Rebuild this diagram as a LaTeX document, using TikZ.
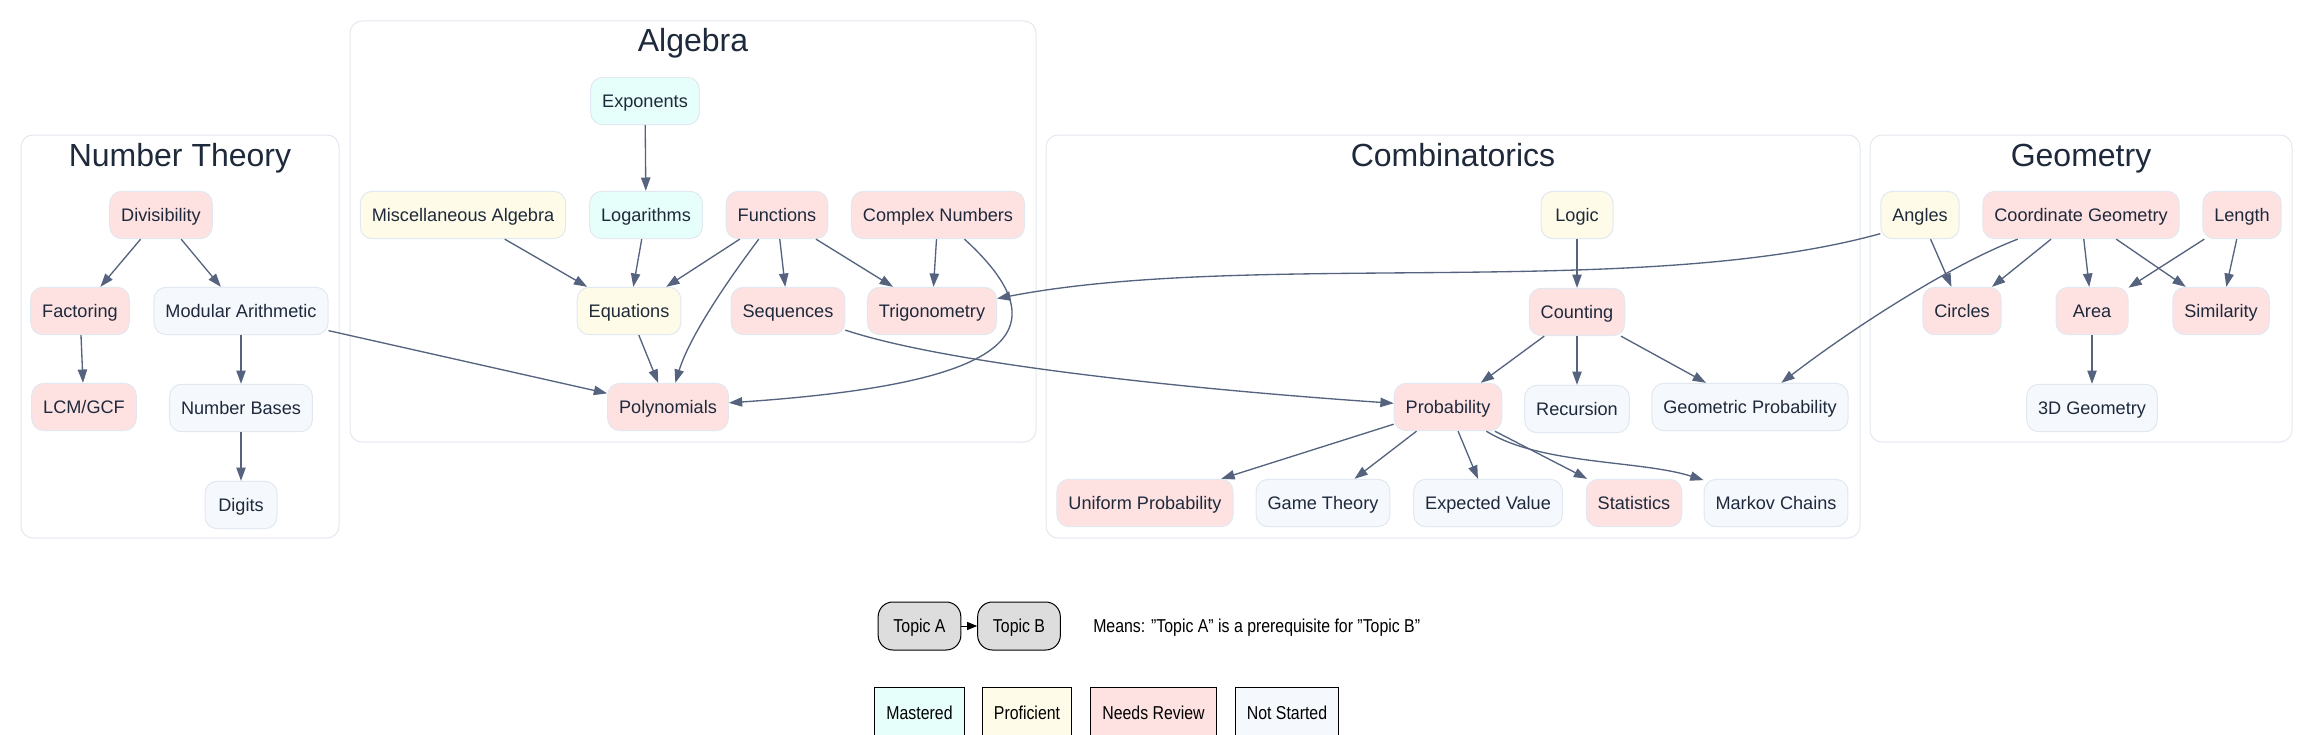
\documentclass[tikz,border=0pt]{standalone}
\usepackage{fontspec}
\setmainfont{Liberation Sans}
\usetikzlibrary{arrows.meta,positioning}

\definecolor{ink}{HTML}{1E293B}
\definecolor{wire}{HTML}{55637F}
\definecolor{rim}{HTML}{E2E8F0}
\definecolor{mastered}{HTML}{E6FFFA}
\definecolor{proficient}{HTML}{FEFCE8}
\definecolor{review}{HTML}{FEE2E2}
\definecolor{notstarted}{HTML}{F5F8FC}
\definecolor{sample}{HTML}{DDDDDD}

\newcommand{\legendtext}[1]{\scalebox{0.85}[1]{#1}}

\begin{document}
\begin{tikzpicture} [
    x=0.75pt, y=-0.75pt,
    topic/.style={rectangle, rounded corners=9pt, draw=rim, line width=0.75pt, text=ink, font=\fontsize{13.6}{16}\selectfont, minimum height=35.5pt, minimum width=54pt, inner xsep=8.6pt, text height=10pt, text depth=0pt},
    done/.style={topic, fill=mastered},
    good/.style={topic, fill=proficient},
    weak/.style={topic, fill=review},
    todo/.style={topic, fill=notstarted},
    group/.style={draw=rim, line width=0.75pt, rounded corners=9pt},
    heading/.style={anchor=base, text=ink, font=\fontsize{24}{28}\selectfont},
    link/.style={->, draw=wire, line width=1pt},
    swatch/.style={rectangle, draw=black, line width=0.75pt, minimum height=39pt, inner xsep=8.6pt, font=\fontsize{14}{16}\selectfont, text height=10pt, text depth=0pt},
    sampletopic/.style={rectangle, rounded corners=11pt, draw=black, fill=sample, line width=0.75pt, minimum height=36pt, minimum width=62pt, font=\fontsize{14}{16}\selectfont, text height=10pt, text depth=0pt},
    >={Triangle[length=10pt,width=7pt]},
    node distance=36.5pt
    ]
    \useasboundingbox (0,0) rectangle (2313,735);

    %Clusters
    \draw[group] (21,135) rectangle (339,538);
    \draw[group] (350,21) rectangle (1036,442);
    \draw[group] (1046,135) rectangle (1860,538);
    \draw[group] (1870,135) rectangle (2292,442);
    \node[heading] (ntitle) at (180,166) {Number Theory};
    \node[heading] (atitle) at (693,52) {Algebra};
    \node[heading] (ctitle) at (1453,166) {Combinatorics};
    \node[heading] (gtitle) at (2081,166) {Geometry};

    %Nodes
    \node[weak]  (div)    at (161,215) {Divisibility};
    \node[weak]  (fact)   at (80,311)  {Factoring};
    \node[todo]  (mod)    at (241,311) {Modular Arithmetic};
    \node[weak]  (lcm)    at (84,407)  {LCM/GCF};
    \node[todo]  (bases)  [below =of mod] {Number Bases};
    \node[todo]  (digits) [below =of bases] {Digits};

    \node[done]  (expo)   at (645,101) {Exponents};
    \node[good]  (misc)   at (463,215) {Miscellaneous Algebra};
    \node[done]  (logs)   at (646,215) {Logarithms};
    \node[weak]  (func)   at (777,215) {Functions};
    \node[weak]  (cplx)   at (938,215) {Complex Numbers};
    \node[good]  (eqn)    at (629,311) {Equations};
    \node[weak]  (seq)    at (788,311) {Sequences};
    \node[weak]  (trig)   at (932,311) {Trigonometry};
    \node[weak]  (poly)   at (668,407) {Polynomials};

    \node[good]  (logic)  at (1577,215) {Logic};
    \node[weak]  (count)  [below =of logic] {Counting};
    \node[weak]  (prob)   at (1448,407) {Probability};
    \node[todo]  (rec)    [below =of count] {Recursion};
    \node[todo]  (gprob)  at (1750,407) {Geometric Probability};
    \node[weak]  (unif)   at (1145,503) {Uniform Probability};
    \node[todo]  (game)   at (1323,503) {Game Theory};
    \node[todo]  (exval)  at (1488,503) {Expected Value};
    \node[weak]  (stats)  at (1634,503) {Statistics};
    \node[todo]  (markov) at (1776,503) {Markov Chains};

    \node[good]  (angles) at (1920,215) {Angles};
    \node[weak]  (coord)  at (2081,215) {Coordinate Geometry};
    \node[weak]  (len)    at (2242,215) {Length};
    \node[weak]  (circ)   at (1962,311) {Circles};
    \node[weak]  (area)   at (2092,311) {Area};
    \node[weak]  (sim)    at (2221,311) {Similarity};
    \node[todo]  (solid)  [below =of area] {3D Geometry};

    %Legend
    \node[sampletopic] (topa) at (919.5,626) {\legendtext{Topic A}};
    \node[sampletopic] (topb) at (1019,626) {\legendtext{Topic B}};
    \node[anchor=west, font=\fontsize{14}{16}\selectfont, text height=10pt, text depth=0pt, inner xsep=0pt] (means) at (1093,626) {\legendtext{Means: "Topic A" is a prerequisite for "Topic B"}};
    \node[swatch, fill=mastered]   (kmast) at (919.5,713) {\legendtext{Mastered}};
    \node[swatch, fill=proficient] (kprof) at (1027,713)  {\legendtext{Proficient}};
    \node[swatch, fill=review]     (krev)  at (1153.5,713) {\legendtext{Needs Review}};
    \node[swatch, fill=notstarted] (knot)  at (1287,713)  {\legendtext{Not Started}};

    %Lines
    \draw[link] (div) -- (fact);
    \draw[link] (div) -- (mod);
    \draw[link] (fact) -- (lcm);
    \draw[link] (mod) -- (bases);
    \draw[link] (bases) -- (digits);
    \draw[link] (mod) -- (poly);

    \draw[link] (expo) -- (logs);
    \draw[link] (misc) -- (eqn);
    \draw[link] (logs) -- (eqn);
    \draw[link] (func) -- (eqn);
    \draw[link] (func) .. controls (725,284) and (689,338) .. (poly);
    \draw[link] (func) -- (seq);
    \draw[link] (func) -- (trig);
    \draw[link] (cplx) -- (trig);
    \draw[link] (cplx) .. controls (1075,340) and (990,385) .. (poly);
    \draw[link] (eqn) -- (poly);
    \draw[link] (seq) .. controls (950,365) and (1200,390) .. (prob);

    \draw[link] (logic) -- (count);
    \draw[link] (count) -- (prob);
    \draw[link] (count) -- (rec);
    \draw[link] (count) -- (gprob);
    \draw[link] (prob) -- (unif);
    \draw[link] (prob) -- (game);
    \draw[link] (prob) -- (exval);
    \draw[link] (prob) -- (stats);
    \draw[link] (prob) .. controls (1540,465) and (1640,460) .. (markov);

    \draw[link] ([yshift=-14pt]angles.west) .. controls (1640,300) and (1250,250) .. (trig);
    \draw[link] (angles) -- (circ);
    \draw[link] (coord) -- (circ);
    \draw[link] (coord) -- (area);
    \draw[link] (coord) -- (sim);
    \draw[link] (coord) .. controls (1950,265) and (1850,330) .. (gprob);
    \draw[link] (len) -- (area);
    \draw[link] (len) -- (sim);
    \draw[link] (area) -- (solid);

    \draw[-{Triangle[length=7.5pt,width=6pt]}, line width=0.75pt] (topa) -- (topb);
\end{tikzpicture}
\end{document}
